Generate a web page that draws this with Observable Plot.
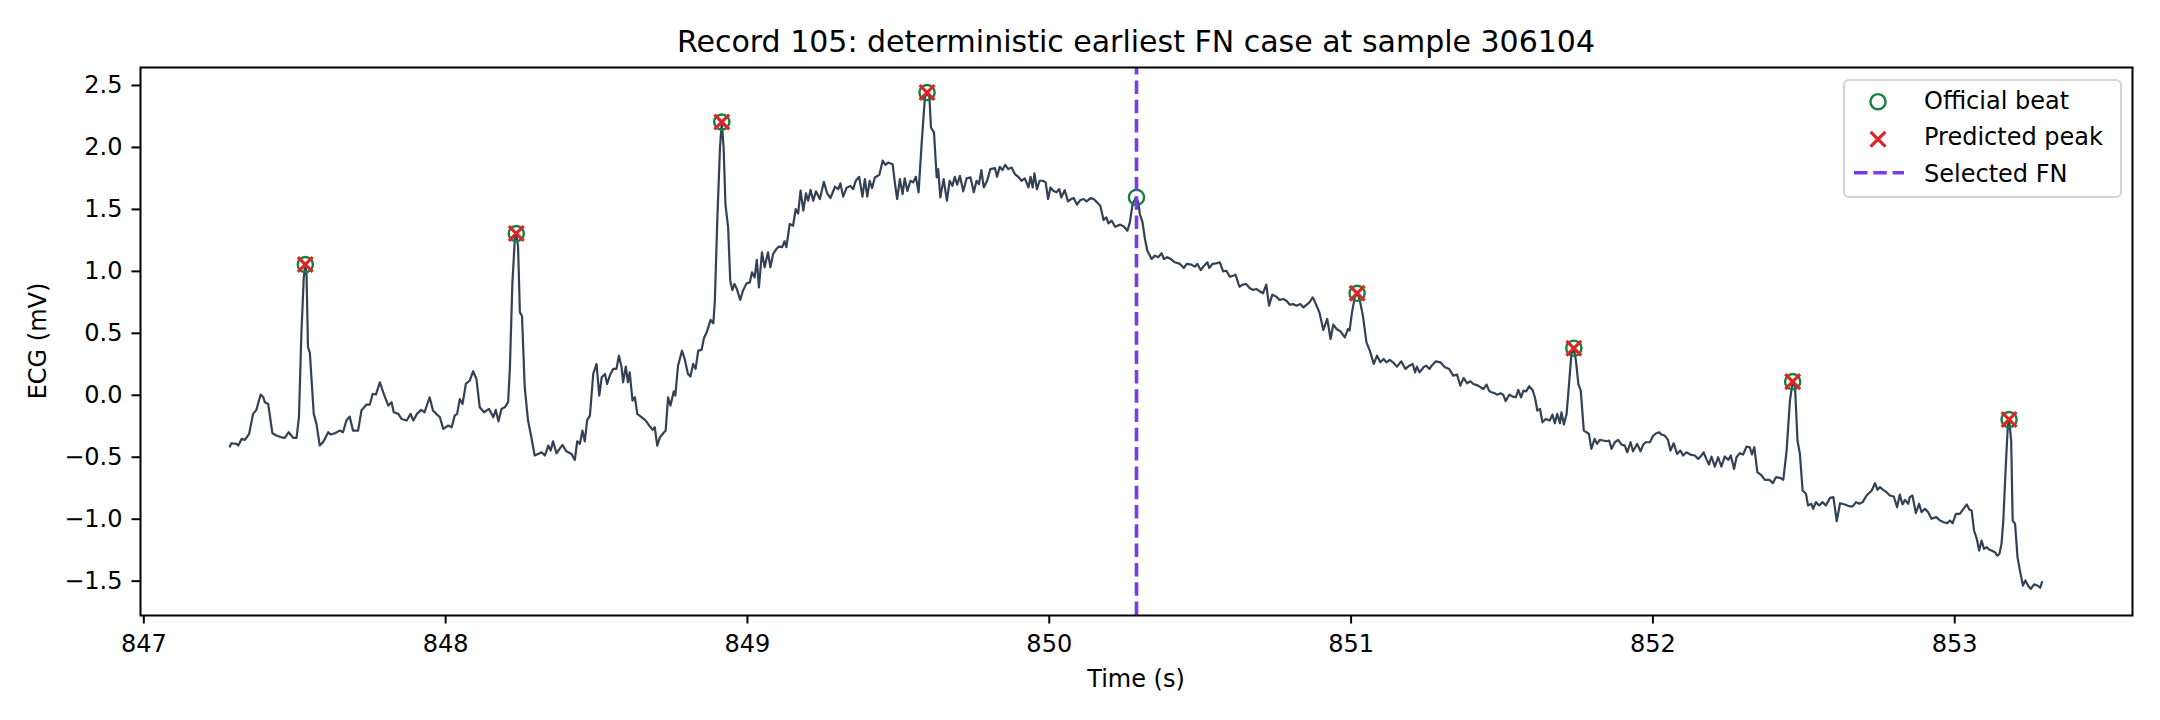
<!DOCTYPE html>
<html>
<head>
<meta charset="utf-8">
<script src="https://cdn.jsdelivr.net/npm/d3@7"></script>
<script src="https://cdn.jsdelivr.net/npm/@observablehq/plot@0.6"></script>
<style>
  html, body { margin: 0; padding: 0; background: white; }
  #chart { width: 2160px; height: 720px; }
</style>
</head>
<body>
<div id="chart"></div>
<script>
// ---- Data ----
const titleText = "Record 105: deterministic earliest FN case at sample 306104";
const xLabel = "Time (s)";
const yLabel = "ECG (mV)";
const xTicks = [847, 848, 849, 850, 851, 852, 853];
const yTicks = [-1.5, -1.0, -0.5, 0.0, 0.5, 1.0, 1.5, 2.0, 2.5];

const traceTime = [
847.285,847.290,847.307,847.313,847.324,847.335,847.349,847.362,847.373,847.387,847.396,847.401,847.412,847.426,847.439,847.456,847.467,847.480,847.495,847.506,
847.514,847.522,847.530,847.535,847.539,847.544,847.550,847.563,847.572,847.583,847.594,847.611,847.619,847.633,847.649,847.660,847.671,847.682,847.693,847.710,
847.721,847.738,847.749,847.758,847.769,847.782,847.795,847.810,847.821,847.828,847.843,847.854,847.871,847.884,847.893,847.905,847.919,847.930,847.947,847.958,
847.969,847.981,847.992,848.009,848.020,848.030,848.038,848.047,848.056,848.067,848.080,848.091,848.102,848.113,848.127,848.144,848.158,848.166,848.175,848.185,
848.196,848.207,848.213,848.221,848.229,848.234,848.240,848.246,848.253,848.262,848.273,848.284,848.295,848.306,848.318,848.329,848.340,848.348,848.356,848.367,
848.387,848.400,848.417,848.428,848.436,848.445,848.453,848.461,848.469,848.478,848.489,848.500,848.509,848.517,848.528,848.535,848.544,848.555,848.566,848.574,
848.583,848.588,848.597,848.604,848.610,848.619,848.627,848.635,848.649,848.663,848.677,848.686,848.693,848.701,848.710,848.721,848.729,848.737,848.745,848.756,
848.761,848.770,848.783,848.792,848.803,848.811,848.820,848.828,848.837,848.848,848.856,848.865,848.878,848.887,848.892,848.900,848.909,848.915,848.921,848.927,
848.936,848.943,848.950,848.957,848.965,848.976,848.985,848.997,849.008,849.015,849.024,849.031,849.038,849.048,849.057,849.068,849.076,849.085,849.096,849.104,
849.115,849.123,849.129,849.140,849.151,849.160,849.168,849.176,849.185,849.194,849.201,849.209,849.218,849.227,849.240,849.253,849.264,849.275,849.290,849.301,
849.308,849.317,849.328,849.341,849.350,849.359,849.370,849.381,849.389,849.397,849.405,849.413,849.422,849.437,849.448,849.457,849.466,849.481,849.489,849.496,
849.505,849.514,849.521,849.530,849.540,849.549,849.558,849.567,849.577,849.588,849.595,849.603,849.608,849.618,849.627,849.632,849.639,849.650,849.661,849.670,
849.679,849.687,849.695,849.704,849.715,849.726,849.739,849.750,849.759,849.767,849.775,849.783,849.794,849.805,849.820,849.827,849.836,849.845,849.854,849.864,
849.875,849.886,849.897,849.908,849.919,849.931,849.938,849.945,849.951,849.959,849.968,849.979,849.988,849.996,850.004,850.013,850.024,850.033,850.040,850.051,
850.062,850.073,850.081,850.092,850.103,850.114,850.123,850.138,850.147,850.158,850.169,850.180,850.189,850.196,850.207,850.218,850.235,850.248,850.259,850.267,
850.276,850.287,850.295,850.300,850.309,850.317,850.325,850.339,850.350,850.361,850.372,850.380,850.391,850.402,850.416,850.433,850.446,850.455,850.471,850.482,
850.490,850.502,850.513,850.524,850.530,850.541,850.554,850.565,850.576,850.587,850.598,850.609,850.617,850.630,850.641,850.652,850.664,850.675,850.686,850.697,
850.708,850.719,850.728,850.739,850.752,850.763,850.775,850.786,850.797,850.808,850.819,850.832,850.842,850.853,850.862,850.873,850.881,850.895,850.908,850.921,
850.932,850.941,850.952,850.965,850.979,850.990,850.995,851.003,851.012,851.020,851.028,851.039,851.051,851.062,851.075,851.086,851.097,851.108,851.117,851.128,
851.139,851.152,851.166,851.180,851.193,851.204,851.212,851.218,851.227,851.240,851.249,851.260,851.267,851.281,851.296,851.311,851.325,851.338,851.351,851.362,
851.373,851.384,851.395,851.405,851.421,851.438,851.449,851.457,851.465,851.476,851.484,851.495,851.504,851.512,851.524,851.537,851.546,851.554,851.563,851.571,
851.580,851.590,851.601,851.609,851.617,851.626,851.634,851.645,851.658,851.667,851.675,851.683,851.692,851.697,851.705,851.714,851.723,851.730,851.738,851.745,
851.753,851.761,851.771,851.780,851.788,851.796,851.807,851.815,851.824,851.835,851.846,851.855,851.863,851.874,851.885,851.896,851.907,851.915,851.926,851.934,
851.948,851.959,851.968,851.976,851.990,852.001,852.012,852.021,852.028,852.039,852.050,852.058,852.069,852.080,852.091,852.100,852.111,852.124,852.139,852.150,
852.161,852.168,852.177,852.186,852.194,852.205,852.216,852.227,852.238,852.250,852.258,852.269,852.277,852.288,852.299,852.310,852.321,852.328,852.336,852.346,
852.360,852.371,852.386,852.397,852.408,852.421,852.432,852.443,852.454,852.463,852.471,852.479,852.487,852.496,852.507,852.514,852.525,852.531,852.540,852.551,
852.562,852.573,852.587,852.598,852.609,852.620,852.636,852.653,852.662,852.673,852.684,852.695,852.708,852.725,852.736,852.744,852.752,852.763,852.774,852.785,
852.798,852.809,852.818,852.827,852.835,852.846,852.851,852.860,852.871,852.882,852.890,852.901,852.912,852.923,852.939,852.951,852.964,852.975,852.984,852.993,
853.004,853.017,853.029,853.040,853.049,853.056,853.064,853.073,853.081,853.089,853.097,853.106,853.115,853.122,853.133,853.141,853.148,853.155,853.161,853.170,
853.176,853.180,853.187,853.192,853.200,853.208,853.217,853.226,853.234,853.243,853.252,853.263,853.274,853.283,853.289
];

const traceMv = [
-0.414,-0.387,-0.392,-0.405,-0.352,-0.360,-0.311,-0.150,-0.118,0.006,-0.016,-0.056,-0.070,-0.306,-0.325,-0.339,-0.344,-0.298,-0.344,-0.344,
-0.177,0.495,0.952,1.055,0.980,0.387,0.347,-0.150,-0.231,-0.405,-0.378,-0.298,-0.317,-0.306,-0.285,-0.298,-0.204,-0.172,-0.285,-0.285,
-0.123,-0.075,-0.075,0.011,0.006,0.105,0.011,-0.083,-0.056,-0.137,-0.150,-0.191,-0.204,-0.150,-0.204,-0.150,-0.118,-0.137,-0.016,-0.123,
-0.150,-0.177,-0.271,-0.244,-0.258,-0.164,-0.150,-0.030,-0.070,0.092,0.119,0.194,0.132,-0.097,-0.137,-0.110,-0.177,-0.118,-0.210,-0.110,
-0.097,-0.056,0.226,0.898,1.250,1.305,1.200,0.669,0.640,0.065,-0.204,-0.339,-0.486,-0.473,-0.460,-0.486,-0.406,-0.446,-0.371,-0.468,
-0.400,-0.452,-0.473,-0.522,-0.371,-0.392,-0.285,-0.371,-0.200,-0.164,0.172,0.253,-0.002,0.145,0.172,0.091,0.159,0.213,0.213,0.320,
0.226,0.105,0.232,0.105,0.186,-0.043,-0.016,-0.150,-0.177,-0.204,-0.252,-0.279,-0.258,-0.406,-0.339,-0.306,-0.285,-0.016,-0.083,0.032,
-0.002,0.239,0.360,0.293,0.172,0.151,0.253,0.213,0.360,0.366,0.463,0.508,0.608,0.581,0.764,1.409,2.000,2.205,2.000,1.543,
1.355,0.925,0.849,0.898,0.857,0.769,0.844,0.903,0.911,0.992,0.951,1.092,0.871,1.154,1.033,1.154,1.033,1.140,1.181,1.200,
1.195,1.243,1.195,1.382,1.368,1.503,1.467,1.651,1.490,1.630,1.570,1.657,1.570,1.646,1.584,1.722,1.630,1.592,1.683,1.664,
1.710,1.603,1.672,1.690,1.664,1.731,1.763,1.603,1.744,1.603,1.731,1.672,1.758,1.779,1.893,1.860,1.878,1.865,1.704,1.584,
1.744,1.624,1.750,1.649,1.731,1.718,1.763,1.638,2.027,2.403,2.443,2.403,2.161,2.121,1.758,1.825,1.597,1.744,1.570,1.731,
1.690,1.763,1.699,1.771,1.646,1.750,1.758,1.638,1.731,1.704,1.817,1.677,1.731,1.825,1.833,1.763,1.844,1.817,1.860,1.825,
1.838,1.785,1.763,1.731,1.750,1.677,1.763,1.677,1.790,1.664,1.731,1.731,1.718,1.584,1.677,1.651,1.638,1.664,1.597,1.655,
1.565,1.584,1.592,1.538,1.576,1.584,1.565,1.592,1.584,1.557,1.530,1.414,1.436,1.387,1.409,1.360,1.377,1.360,1.328,1.395,
1.543,1.597,1.557,1.463,1.395,1.261,1.167,1.100,1.127,1.114,1.146,1.100,1.114,1.100,1.073,1.060,1.027,1.060,1.054,1.038,
1.060,1.011,1.046,1.073,1.027,1.060,1.065,1.073,1.000,1.005,0.957,0.965,0.973,0.876,0.893,0.898,0.866,0.850,0.858,0.839,
0.823,0.893,0.723,0.812,0.796,0.769,0.777,0.763,0.731,0.736,0.723,0.736,0.709,0.731,0.750,0.790,0.750,0.669,0.527,0.616,
0.454,0.570,0.535,0.516,0.468,0.535,0.522,0.669,0.790,0.823,0.777,0.643,0.427,0.360,0.253,0.320,0.266,0.293,0.266,0.285,
0.266,0.231,0.274,0.213,0.239,0.253,0.185,0.231,0.185,0.226,0.239,0.213,0.239,0.274,0.266,0.226,0.212,0.159,0.167,0.078,
0.140,0.097,0.113,0.091,0.078,0.051,0.086,0.038,0.024,0.016,0.005,0.016,0.005,-0.048,0.005,-0.011,-0.016,0.043,-0.016,0.038,
0.032,0.073,0.043,-0.016,-0.123,-0.110,-0.218,-0.191,-0.204,-0.156,-0.226,-0.150,-0.226,-0.137,-0.236,-0.150,0.118,0.334,0.380,0.280,
0.091,0.038,-0.285,-0.298,-0.311,-0.432,-0.352,-0.392,-0.360,-0.365,-0.371,-0.365,-0.432,-0.379,-0.360,-0.398,-0.406,-0.460,-0.379,-0.452,
-0.392,-0.452,-0.398,-0.379,-0.379,-0.325,-0.306,-0.298,-0.317,-0.325,-0.360,-0.446,-0.387,-0.473,-0.446,-0.486,-0.460,-0.479,-0.486,-0.513,
-0.486,-0.460,-0.513,-0.559,-0.494,-0.575,-0.500,-0.575,-0.494,-0.521,-0.486,-0.594,-0.500,-0.467,-0.478,-0.414,-0.419,-0.478,-0.419,-0.620,
-0.647,-0.682,-0.682,-0.709,-0.661,-0.666,-0.682,-0.446,-0.043,0.110,0.065,-0.365,-0.473,-0.768,-0.795,-0.889,-0.876,-0.916,-0.862,-0.889,
-0.862,-0.889,-0.828,-0.822,-1.016,-0.871,-0.881,-0.897,-0.897,-0.862,-0.876,-0.862,-0.809,-0.768,-0.709,-0.763,-0.742,-0.763,-0.782,-0.809,
-0.817,-0.903,-0.801,-0.881,-0.844,-0.876,-0.822,-0.809,-0.951,-0.876,-0.943,-0.916,-0.943,-0.997,-0.983,-1.011,-1.024,-1.032,-1.011,-1.032,
-0.957,-0.957,-0.916,-0.881,-0.924,-0.930,-1.091,-1.158,-1.253,-1.172,-1.239,-1.226,-1.247,-1.253,-1.266,-1.293,-1.280,-1.199,-1.011,-0.527,
-0.245,-0.196,-0.365,-1.011,-1.038,-1.306,-1.427,-1.535,-1.494,-1.535,-1.562,-1.526,-1.535,-1.553,-1.508
];

// Official annotated beats (including the missed one) and predicted peaks
const beatTime = [847.535, 848.234, 848.915, 849.595, 850.289, 851.020, 851.738, 852.463, 853.180];
const beatMv   = [1.055, 1.305, 2.205, 2.443, 1.597, 0.823, 0.380, 0.110, -0.196];
const predTime = [847.535, 848.234, 848.915, 849.595, 851.020, 851.738, 852.463, 853.180];
const predMv   = [1.055, 1.305, 2.205, 2.443, 0.823, 0.380, 0.110, -0.196];
const fnTime = [850.289];

const legendLabels = ["Official beat", "Predicted peak", "Selected FN"];

// ---- Colours ----
const traceColor = "#334155";
const beatColor = "#15803d";
const predColor = "#dc2626";
const fnColor = "#7c3aed";
const FONT = "DejaVu Sans, Liberation Sans, sans-serif";

// ---- Build tables ----
const trace = traceTime.map((t, i) => ({t, v: traceMv[i]}));
const beats = beatTime.map((t, i) => ({t, v: beatMv[i]}));
const preds = predTime.map((t, i) => ({t, v: predMv[i]}));

const W = 2160, H = 720;
const mL = 140, mR = 28, mT = 67, mB = 105;
const xDomain = [846.989, 853.589];
const yDomain = [-1.777, 2.645];

const plot = Plot.plot({
  width: W,
  height: H,
  marginLeft: mL,
  marginRight: mR,
  marginTop: mT,
  marginBottom: mB,
  style: {fontFamily: FONT, fontSize: "24px", background: "white", color: "black", overflow: "visible"},
  x: {domain: xDomain},
  y: {domain: yDomain},
  marks: [
    Plot.axisX({ticks: xTicks, tickSize: 8.5, tickPadding: 11, tickFormat: d => String(d), label: null, fontSize: 24, strokeWidth: 2, stroke: "black"}),
    Plot.axisY({ticks: yTicks, tickSize: 8.5, tickPadding: 9.5, tickFormat: d3.format(".1f"), label: null, fontSize: 24, strokeWidth: 2, stroke: "black"}),
    Plot.line(trace, {x: "t", y: "v", stroke: traceColor, strokeWidth: 2.2, strokeLinejoin: "round"}),
    Plot.dot(beats, {x: "t", y: "v", r: 7.6, stroke: beatColor, strokeWidth: 2.4, fill: "none"}),
    Plot.dot(preds, {x: "t", y: "v", r: 6.8, symbol: "times", stroke: predColor, strokeWidth: 3.2}),
    Plot.ruleX(fnTime, {y1: yDomain[0], y2: yDomain[1], stroke: fnColor, strokeWidth: 3.6, strokeDasharray: "13.5,5.8"}),
    Plot.frame({stroke: "black", strokeWidth: 2})
  ]
});

document.getElementById("chart").appendChild(plot);

// ---- Title, axis labels, legend (text decorations) ----
const svg = d3.select(plot);
const cx = (mL + (W - mR)) / 2;
const cy = (mT + (H - mB)) / 2;

svg.append("text")
  .attr("x", cx).attr("y", 52)
  .attr("text-anchor", "middle")
  .attr("font-family", FONT).attr("font-size", 30).attr("fill", "black")
  .text(titleText);

svg.append("text")
  .attr("x", cx).attr("y", 687)
  .attr("text-anchor", "middle")
  .attr("font-family", FONT).attr("font-size", 24).attr("fill", "black")
  .text(xLabel);

svg.append("text")
  .attr("transform", `translate(46,${cy}) rotate(-90)`)
  .attr("text-anchor", "middle")
  .attr("font-family", FONT).attr("font-size", 24).attr("fill", "black")
  .text(yLabel);

// Legend box anchored to the top-right of the frame
const lgRight = W - mR - 11, lgTop = mT + 13, lgW = 277, lgH = 117;
const lgX = lgRight - lgW;
const lg = svg.append("g");
lg.append("rect")
  .attr("x", lgX).attr("y", lgTop).attr("width", lgW).attr("height", lgH)
  .attr("rx", 5).attr("fill", "white").attr("fill-opacity", 0.8)
  .attr("stroke", "#d4d4d4").attr("stroke-width", 2);

const rowY = [lgTop + 21.7, lgTop + 59.3, lgTop + 92.7];
const mx = lgX + 34;
lg.append("circle").attr("cx", mx).attr("cy", rowY[0]).attr("r", 7.6)
  .attr("fill", "none").attr("stroke", beatColor).attr("stroke-width", 2.4);
lg.append("path").attr("d", d3.symbol(d3.symbolTimes, Math.PI * 6.8 * 6.8)())
  .attr("transform", `translate(${mx},${rowY[1]})`)
  .attr("fill", "none").attr("stroke", predColor).attr("stroke-width", 3.2);
lg.append("line").attr("x1", mx - 24).attr("x2", mx + 26).attr("y1", rowY[2]).attr("y2", rowY[2])
  .attr("stroke", fnColor).attr("stroke-width", 3.6).attr("stroke-dasharray", "13.5,5.8");

const textBase = [lgTop + 29.3, lgTop + 65.3, lgTop + 101.7];
legendLabels.forEach((s, i) => {
  lg.append("text").attr("x", lgX + 80).attr("y", textBase[i])
    .attr("text-anchor", "start")
    .attr("font-family", FONT).attr("font-size", 24).attr("fill", "black")
    .text(s);
});
</script>
</body>
</html>
